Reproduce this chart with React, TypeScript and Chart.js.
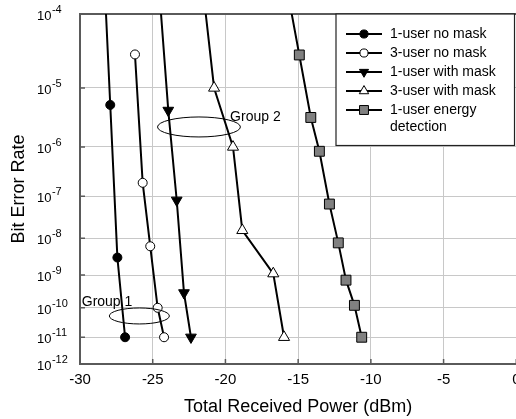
import React, { useEffect, useRef } from 'react';
import { Chart, registerables } from 'chart.js';

Chart.register(...registerables);

// ---------- data ----------
const seriesLabels = [
  '1-user no mask',
  '3-user no mask',
  '1-user with mask',
  '3-user with mask',
  '1-user energy\ndetection',
];

const power1UserNoMask = [-28.53, -27.92, -27.43, -26.9];
const ber1UserNoMask = [1e-3, 5.4e-6, 3.1e-9, 1e-11];

const power3UserNoMask = [-26.22, -25.69, -25.17, -24.66, -24.22];
const ber3UserNoMask = [3.05e-5, 1.94e-7, 6.2e-9, 1.0e-10, 1e-11];

const power1UserMask = [-24.94, -23.93, -23.35, -22.85, -22.37];
const ber1UserMask = [1e-3, 4.4e-6, 8.1e-8, 2.95e-10, 1e-11];

const power3UserMask = [-22.12, -20.78, -19.48, -18.84, -16.71, -15.97];
const ber3UserMask = [1e-3, 1e-5, 1e-6, 1.58e-8, 1.1e-9, 1e-11];

const powerEnergy = [-16.7, -14.92, -14.13, -13.54, -12.85, -12.24, -11.71, -11.13, -10.63];
const berEnergy = [1e-3, 3e-5, 3.35e-6, 8.3e-7, 6.65e-8, 7.6e-9, 7.1e-10, 1.2e-10, 1e-11];

const xTickValues = [-30, -25, -20, -15, -10, -5, 0];
const berExponents = [4, 5, 6, 7, 8, 9, 10, 11, 12];

const groupLabels = ['Group 1', 'Group 2'];
const groupCenterPower = [-25.92, -21.82];
const groupCenterBer = [5.4e-11, 2.3e-6];
const groupWidthDb = [4.13, 5.7];
const groupLabelPower = [-29.88, -19.68];
const groupLabelBer = [1.13e-10, 2.9e-6];

// ---------- helpers ----------
const toAxis = (ber: number) => Math.log10(-Math.log10(ber) - 0.5);

const FONT = "'Liberation Sans', Arial, Helvetica, sans-serif";
const AXIS = '#5a5a5a';
const GRID = '#c8c8c8';

const seriesPower = [power1UserNoMask, power3UserNoMask, power1UserMask, power3UserMask, powerEnergy];
const seriesBer = [ber1UserNoMask, ber3UserNoMask, ber1UserMask, ber3UserMask, berEnergy];

type MarkerSpec = { style: string; radius: number; rotation: number; fill: string };
const markers: MarkerSpec[] = [
  { style: 'circle', radius: 4.5, rotation: 0, fill: '#000000' },
  { style: 'circle', radius: 4.5, rotation: 0, fill: '#ffffff' },
  { style: 'triangle', radius: 6.2, rotation: 180, fill: '#000000' },
  { style: 'triangle', radius: 6.4, rotation: 0, fill: '#ffffff' },
  { style: 'rect', radius: 7, rotation: 0, fill: '#808080' },
];

function drawMarker(ctx: CanvasRenderingContext2D, m: MarkerSpec, x: number, y: number, scale = 1) {
  const r = m.radius * scale;
  ctx.beginPath();
  if (m.style === 'circle') {
    ctx.arc(x, y, r, 0, Math.PI * 2);
  } else if (m.style === 'triangle') {
    let a = (m.rotation * Math.PI) / 180;
    ctx.moveTo(x + Math.sin(a) * r, y - Math.cos(a) * r);
    a += (2 * Math.PI) / 3;
    ctx.lineTo(x + Math.sin(a) * r, y - Math.cos(a) * r);
    a += (2 * Math.PI) / 3;
    ctx.lineTo(x + Math.sin(a) * r, y - Math.cos(a) * r);
    ctx.closePath();
  } else {
    const s = Math.SQRT1_2 * r;
    ctx.rect(x - s, y - s, 2 * s, 2 * s);
  }
  ctx.fillStyle = m.fill;
  ctx.fill();
  ctx.lineWidth = 1;
  ctx.strokeStyle = '#000';
  ctx.stroke();
}

const overlayPlugin = {
  id: 'overlay',
  beforeDatasetsDraw(chart: any) {
    const { ctx, chartArea: a, scales } = chart;
    const xs = scales.x;
    const ys = scales.y;
    ctx.save();
    // top frame line
    ctx.strokeStyle = AXIS;
    ctx.lineWidth = 2;
    ctx.beginPath();
    ctx.moveTo(a.left - 1, a.top);
    ctx.lineTo(a.right + 2, a.top);
    ctx.stroke();
    // inward tick marks
    ctx.lineWidth = 1.5;
    ctx.beginPath();
    xTickValues.forEach((v) => {
      const px = xs.getPixelForValue(v);
      ctx.moveTo(px, a.bottom);
      ctx.lineTo(px, a.bottom - 5);
    });
    berExponents.forEach((n) => {
      const py = ys.getPixelForValue(toAxis(Math.pow(10, -n)));
      ctx.moveTo(a.left, py);
      ctx.lineTo(a.left + 5, py);
    });
    ctx.stroke();
    // y tick labels with superscripts
    ctx.fillStyle = '#000';
    ctx.textAlign = 'left';
    ctx.textBaseline = 'alphabetic';
    berExponents.forEach((n) => {
      const py = ys.getPixelForValue(toAxis(Math.pow(10, -n)));
      ctx.font = `13px ${FONT}`;
      const baseX = 37;
      ctx.fillText('10', baseX, py + 6);
      const w = ctx.measureText('10').width;
      ctx.font = `11px ${FONT}`;
      ctx.fillText('-' + n, baseX + w + 0.5, py - 1);
    });
    ctx.restore();
  },
  afterDatasetsDraw(chart: any) {
    const { ctx, scales } = chart;
    const xs = scales.x;
    const ys = scales.y;
    ctx.save();
    // group ellipses and labels
    groupLabels.forEach((label, i) => {
      const cx = xs.getPixelForValue(groupCenterPower[i]);
      const cy = ys.getPixelForValue(toAxis(groupCenterBer[i]));
      const rx = (xs.getPixelForValue(groupCenterPower[i] + groupWidthDb[i] / 2) - cx);
      const ry = i === 0 ? 8 : 10;
      ctx.beginPath();
      ctx.ellipse(cx, cy, rx, ry, 0, 0, Math.PI * 2);
      ctx.lineWidth = 1;
      ctx.strokeStyle = '#000';
      ctx.stroke();
      ctx.font = `14px ${FONT}`;
      ctx.fillStyle = '#000';
      ctx.textAlign = 'left';
      ctx.textBaseline = 'alphabetic';
      ctx.fillText(label, xs.getPixelForValue(groupLabelPower[i]), ys.getPixelForValue(toAxis(groupLabelBer[i])));
    });

    // legend box
    const L = 336, T = 14, R = 514.5, B = 145.5;
    ctx.fillStyle = '#fff';
    ctx.fillRect(L, T, R - L, B - T);
    ctx.strokeStyle = '#222';
    ctx.lineWidth = 1.2;
    ctx.strokeRect(L, T, R - L, B - T);
    seriesLabels.forEach((label, i) => {
      const yRow = 34 + i * 19;
      ctx.beginPath();
      ctx.moveTo(346, yRow);
      ctx.lineTo(382, yRow);
      ctx.lineWidth = 2;
      ctx.strokeStyle = '#000';
      ctx.stroke();
      drawMarker(ctx, markers[i], 364, yRow, i === 4 ? 0.9 : i < 2 ? 0.9 : 0.85);
      ctx.font = `14px ${FONT}`;
      ctx.fillStyle = '#000';
      ctx.textAlign = 'left';
      ctx.textBaseline = 'middle';
      label.split('\n').forEach((line, k) => {
        ctx.fillText(line, 390, yRow + k * 17);
      });
    });
    ctx.restore();
  },
};

export default function App() {
  const canvasRef = useRef<HTMLCanvasElement | null>(null);

  useEffect(() => {
    const canvas = canvasRef.current;
    if (!canvas) return;
    Chart.defaults.font.family = FONT;

    const datasets = seriesPower.map((pw, i) => ({
      label: seriesLabels[i],
      data: pw.map((xv, j) => ({ x: xv, y: toAxis(seriesBer[i][j]) })),
      borderColor: '#000',
      borderWidth: 2,
      backgroundColor: markers[i].fill,
      pointStyle: markers[i].style,
      pointRadius: markers[i].radius,
      pointRotation: markers[i].rotation,
      pointBackgroundColor: markers[i].fill,
      pointBorderColor: '#000',
      pointBorderWidth: 1,
      tension: 0,
      fill: false,
    }));

    const chart = new Chart(canvas, {
      type: 'line',
      data: { datasets },
      plugins: [overlayPlugin],
      options: {
        responsive: false,
        animation: false,
        devicePixelRatio: 1,
        layout: { padding: { left: 0, top: 14, right: 540 - 516.3, bottom: 0 } },
        plugins: { legend: { display: false }, tooltip: { enabled: false } },
        scales: {
          x: {
            type: 'linear',
            min: -30,
            max: 0,
            afterBuildTicks: (s: any) => {
              s.ticks = xTickValues.map((v) => ({ value: v }));
            },
            afterFit: (s: any) => {
              s.height = 55;
            },
            ticks: {
              color: '#000',
              font: { size: 15, family: FONT },
              padding: 7,
              maxRotation: 0,
              autoSkip: false,
            },
            grid: { color: GRID, lineWidth: 1, drawTicks: false },
            border: { color: AXIS, width: 2 },
            title: {
              display: true,
              text: 'Total Received Power (dBm)',
              color: '#000',
              font: { size: 18, family: FONT },
              padding: { top: 0, bottom: 1 },
            },
          },
          y: {
            type: 'linear',
            reverse: true,
            min: toAxis(1e-4),
            max: toAxis(1e-12),
            afterBuildTicks: (s: any) => {
              s.ticks = berExponents.map((n) => ({ value: toAxis(Math.pow(10, -n)) }));
            },
            afterFit: (s: any) => {
              s.width = 80;
            },
            ticks: { display: false },
            grid: { color: GRID, lineWidth: 1, drawTicks: false },
            border: { color: AXIS, width: 2 },
            title: {
              display: true,
              text: 'Bit Error Rate',
              color: '#000',
              font: { size: 18, family: FONT },
              padding: { top: 8, bottom: 0 },
            },
          },
        },
      },
    } as any);

    return () => chart.destroy();
  }, []);

  return (
    <div
      style={{
        position: 'fixed',
        left: 0,
        top: 0,
        width: 516,
        height: 419,
        overflow: 'hidden',
        background: '#fff',
      }}
    >
      <canvas ref={canvasRef} width={540} height={419} style={{ display: 'block', width: 540, height: 419 }} />
    </div>
  );
}
